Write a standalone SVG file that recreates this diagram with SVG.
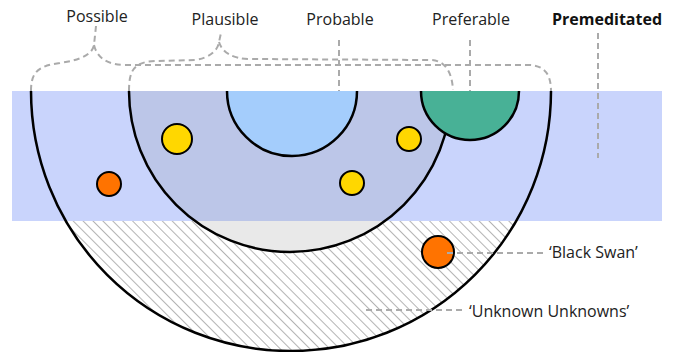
<svg xmlns="http://www.w3.org/2000/svg" width="676" height="352" viewBox="0 0 676 352">
<style>
.lbl{font-family:"Open Sans","Liberation Sans",sans-serif;font-size:16px;fill:#222}
.b{font-weight:bold;fill:#111}
.arc{stroke:#000;stroke-width:2.5;fill:none}
.dot{stroke:#000;stroke-width:2}
.dash{stroke:#aaa;stroke-width:2;stroke-dasharray:6 4;fill:none}
</style>
<defs>
<pattern id="hatch" patternUnits="userSpaceOnUse" width="7" height="7" patternTransform="rotate(-45)">
<rect width="7" height="7" fill="#fff"/>
<line x1="0" y1="0" x2="0" y2="7" stroke="#8c8c8c" stroke-width="1.3"/>
</pattern>
<clipPath id="below"><rect x="0" y="221" width="676" height="131"/></clipPath>
<clipPath id="above"><rect x="0" y="0" width="676" height="221"/></clipPath>
</defs>
<rect id="band" x="12" y="91" width="650" height="130" fill="#c9d4fc"/>
<g id="possible">
<path d="M31,91 A260,260 0 0 0 551,91 Z" fill="url(#hatch)" clip-path="url(#below)"/>
</g>
<g id="plausible">
<path d="M129,91 A161,161 0 0 0 451,91 Z" fill="#bcc6e8" clip-path="url(#above)"/>
<path d="M129,91 A161,161 0 0 0 451,91 Z" fill="#e9e9e9" clip-path="url(#below)"/>
<path class="arc" d="M129,91 A161,161 0 0 0 451,91"/>
</g>
<path class="arc" d="M31,91 A260,260 0 0 0 551,91"/>
<g id="probable"><path class="arc" style="fill:#a4cdfc" d="M227,91 A65,65 0 0 0 357,91"/></g>
<g id="preferable"><path class="arc" style="fill:#48b196" d="M421,91 A49,49 0 0 0 519,91"/></g>
<g id="dots">
<circle class="dot" cx="177" cy="139" r="15" fill="#ffd700"/>
<circle class="dot" cx="409" cy="139" r="12" fill="#ffd700"/>
<circle class="dot" cx="352" cy="183" r="12" fill="#ffd700"/>
<circle class="dot" cx="109" cy="184" r="12" fill="#ff7300"/>
</g>
<g id="blackswan"><circle class="dot" cx="438" cy="252" r="16" fill="#ff7300"/></g>
<g id="connectors">
<path class="dash" d="M31,91 C31,72 38,66 60,63 C80,60 92,55 94,45 L96,26"/>
<path class="dash" d="M94,45 C97,58 108,65 125,65 L528,65 C545,65 551,75 551,91"/>
<path class="dash" d="M129,91 C129,70 134,62 155,61 L195,60 C210,58 218,50 219,42 L221,33"/>
<path class="dash" d="M219,42 C222,52 232,59 250,59 L430,60 C445,60 452,72 453,90"/>
<path class="dash" d="M339,40 L339,91"/>
<path class="dash" d="M470,40 L470,91"/>
<path class="dash" d="M598,33 L598,158"/>
<path class="dash" d="M447,253 L543,253"/>
<path class="dash" d="M366,310 L462,310"/>
</g>
<g id="labels">
<text class="lbl" x="97" y="22" text-anchor="middle">Possible</text>
<text class="lbl" x="225" y="25" text-anchor="middle">Plausible</text>
<text class="lbl" x="340" y="25" text-anchor="middle">Probable</text>
<text class="lbl" x="471" y="25" text-anchor="middle">Preferable</text>
<text class="lbl b" x="607" y="25" text-anchor="middle">Premeditated</text>
<text class="lbl" x="549" y="258">‘Black Swan’</text>
<text class="lbl" x="469" y="317">‘Unknown Unknowns’</text>
</g>
</svg>
